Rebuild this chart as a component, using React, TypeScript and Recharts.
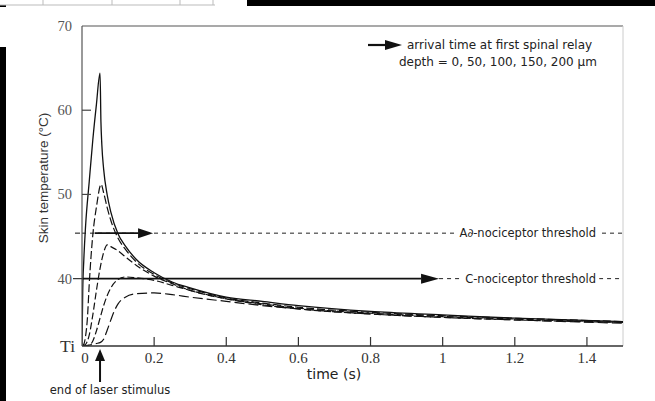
import { LineChart, Line, XAxis, YAxis, ReferenceLine } from "recharts";

// skin temperature (°C) vs time (s) at depths 0, 50, 100, 150, 200 µm
const time0 = [0, 0.002, 0.005, 0.01, 0.02, 0.03, 0.04, 0.05, 0.0525, 0.055, 0.06, 0.07, 0.08, 0.1, 0.12, 0.15, 0.2, 0.25, 0.3, 0.4, 0.5, 0.6, 0.8, 1.0, 1.2, 1.5];
const temp0 = [32, 38.5, 42.2, 46.3, 51.5, 56.5, 60.7, 64.4, 58.6, 55.9, 53.0, 49.9, 47.9, 45.3, 43.9, 42.3, 40.7, 39.6, 38.9, 37.8, 37.3, 36.8, 36.1, 35.7, 35.3, 34.9];

const time50 = [0, 0.005, 0.01, 0.015, 0.02, 0.025, 0.03, 0.04, 0.053, 0.06, 0.07, 0.08, 0.1, 0.12, 0.15, 0.2, 0.25, 0.3, 0.4, 0.5, 0.6, 0.8, 1.0, 1.2, 1.5];
const temp50 = [32, 32.2, 33.2, 35.3, 39.3, 42.6, 45.2, 48.5, 51.2, 50.2, 48.4, 46.9, 44.8, 43.5, 42.0, 40.5, 39.5, 38.8, 37.7, 37.1, 36.6, 36.0, 35.6, 35.3, 34.9];

const time100 = [0, 0.01, 0.02, 0.03, 0.04, 0.05, 0.06, 0.07, 0.08, 0.1, 0.12, 0.15, 0.2, 0.25, 0.3, 0.4, 0.5, 0.6, 0.8, 1.0, 1.2, 1.5];
const temp100 = [32, 32.2, 33.3, 35.7, 38.6, 41.2, 43.1, 44.0, 43.8, 43.3, 42.6, 41.6, 40.3, 39.4, 38.6, 37.6, 37.0, 36.5, 35.9, 35.5, 35.2, 34.8];

const time150 = [0, 0.02, 0.03, 0.04, 0.05, 0.06, 0.07, 0.08, 0.1, 0.12, 0.15, 0.2, 0.25, 0.3, 0.4, 0.5, 0.6, 0.8, 1.0, 1.2, 1.5];
const temp150 = [32, 32.1, 32.6, 33.8, 35.3, 36.8, 38.0, 38.9, 39.9, 40.2, 40.1, 39.8, 39.2, 38.6, 37.6, 36.9, 36.4, 35.8, 35.4, 35.1, 34.8];

const time200 = [0, 0.02, 0.04, 0.05, 0.06, 0.07, 0.08, 0.09, 0.1, 0.12, 0.15, 0.2, 0.25, 0.3, 0.4, 0.5, 0.6, 0.8, 1.0, 1.2, 1.5];
const temp200 = [32, 32.1, 32.3, 32.4, 32.8, 33.9, 35.1, 36.2, 37.0, 37.8, 38.2, 38.3, 38.1, 37.8, 37.3, 36.8, 36.4, 35.8, 35.4, 35.1, 34.7];

const xTicks = [0, 0.2, 0.4, 0.6, 0.8, 1, 1.2, 1.4];
const yTicks = [32, 40, 45.4, 50, 60, 70];

const T_INITIAL = 32;
const AD_THRESHOLD = 45.4;
const C_THRESHOLD = 40;
const AD_ARRIVAL = [0.035, 0.197];
const C_ARRIVAL = [0, 0.99];
const STIMULUS_END = 0.05;

const toRows = (t: number[], v: number[]) => t.map((time, i) => ({ time, temp: v[i] }));

const series = [
  { name: "0 µm", data: toRows(time0, temp0), dash: undefined },
  { name: "50 µm", data: toRows(time50, temp50), dash: "8 3" },
  { name: "100 µm", data: toRows(time100, temp100), dash: "7 3" },
  { name: "150 µm", data: toRows(time150, temp150), dash: "7 3" },
  { name: "200 µm", data: toRows(time200, temp200), dash: "10 4" },
];

const SANS = "'DejaVu Sans', sans-serif";
const SERIF = "'Liberation Serif', 'DejaVu Serif', serif";

function arrowShape(headLen: number, half: number) {
  return (p: any) => {
    const { x1, y1, x2, y2 } = p;
    return (
      <g>
        <line x1={x1} y1={y1} x2={x2 - headLen} y2={y2} stroke="#111" strokeWidth={1.6} />
        <polygon
          points={`${x2 - headLen},${y2 - half} ${x2},${y2} ${x2 - headLen},${y2 + half}`}
          fill="#111"
        />
      </g>
    );
  };
}

function thresholdShape(label: string) {
  return (p: any) => {
    const { x1, y1, x2, y2 } = p;
    return (
      <g>
        <line x1={x1} y1={y1} x2={x2} y2={y2} stroke="#222" strokeWidth={1} strokeDasharray="4 4" />
        <text
          x={x2 - 27}
          y={y2 + 4}
          textAnchor="end"
          fontFamily={SANS}
          fontSize={11.5}
          fill="#222"
          stroke="#fff"
          strokeWidth={8}
          paintOrder="stroke"
        >
          {label}
        </text>
      </g>
    );
  };
}

function stimulusShape(p: any) {
  const x = p.x1;
  const bottom = Math.max(p.y1, p.y2);
  const tip = bottom + 3;
  return (
    <g>
      <line x1={x} y1={tip + 10} x2={x} y2={bottom + 36} stroke="#111" strokeWidth={2} />
      <polygon points={`${x - 5},${tip + 12} ${x},${tip} ${x + 5},${tip + 12}`} fill="#111" />
    </g>
  );
}

function XTick(p: any) {
  const { x, y, payload } = p;
  const v = payload.value;
  return (
    <g>
      {v !== 0 && <line x1={x} y1={y} x2={x} y2={y - 9} stroke="#333" strokeWidth={1.2} />}
      <text x={v === 0 ? x + 3 : x} y={y + 17} textAnchor="middle" fontFamily={SERIF} fontSize={15} fill="#333">
        {String(v)}
      </text>
    </g>
  );
}

function YTick(p: any) {
  const { x, y, payload } = p;
  const v = payload.value;
  if (v === T_INITIAL) {
    return (
      <text x={x - 7} y={y + 6} textAnchor="end" fontFamily={SERIF} fontSize={17.5} fill="#333">
        Ti
      </text>
    );
  }
  if (v === AD_THRESHOLD) {
    return <line x1={x - 7} y1={y} x2={x - 2} y2={y} stroke="#333" strokeWidth={1.2} />;
  }
  let tick = null;
  if (v === 50 || v === 60) tick = <line x1={x} y1={y} x2={x + 9} y2={y} stroke="#444" strokeWidth={1.2} />;
  if (v === 40) tick = <line x1={x - 9} y1={y} x2={x} y2={y} stroke="#333" strokeWidth={1.2} />;
  return (
    <g>
      {tick}
      <text x={x - 10} y={y + 5} textAnchor="end" fontFamily={SERIF} fontSize={14.5} fill="#555">
        {String(v)}
      </text>
    </g>
  );
}

export default function App() {
  return (
    <div style={{ position: "absolute", left: 0, top: 0, width: 655, height: 401, background: "#fff" }}>
      <LineChart width={655} height={401} margin={{ top: 26, right: 32, bottom: 0, left: 0 }}>
        <XAxis
          dataKey="time"
          type="number"
          domain={[0, 1.5]}
          ticks={xTicks}
          height={55}
          tickSize={0}
          tickMargin={0}
          tick={<XTick />}
          axisLine={{ stroke: "#333", strokeWidth: 1.6 }}
          tickLine={false}
          allowDataOverflow
        />
        <YAxis
          type="number"
          domain={[32, 70]}
          ticks={yTicks}
          width={82}
          tickSize={0}
          tickMargin={0}
          tick={<YTick />}
          axisLine={{ stroke: "#555", strokeWidth: 1.2 }}
          tickLine={false}
          allowDataOverflow
        />
        <ReferenceLine y={70} stroke="#555" strokeWidth={1.2} ifOverflow="visible" />
        <ReferenceLine x={1.5} stroke="#ccc" strokeWidth={1} ifOverflow="visible" />
        <ReferenceLine y={AD_THRESHOLD} shape={thresholdShape("A∂-nociceptor threshold")} />
        <ReferenceLine
          segment={[{ x: C_ARRIVAL[1], y: C_THRESHOLD }, { x: 1.5, y: C_THRESHOLD }]}
          shape={thresholdShape("C-nociceptor threshold")}
        />
        <ReferenceLine
          segment={[{ x: AD_ARRIVAL[0], y: AD_THRESHOLD }, { x: AD_ARRIVAL[1], y: AD_THRESHOLD }]}
          shape={arrowShape(15, 5)}
        />
        <ReferenceLine
          segment={[{ x: C_ARRIVAL[0], y: C_THRESHOLD }, { x: C_ARRIVAL[1], y: C_THRESHOLD }]}
          shape={arrowShape(18, 5)}
        />
        <ReferenceLine x={STIMULUS_END} shape={stimulusShape} ifOverflow="visible" />
        {series.map((s) => (
          <Line
            key={s.name}
            name={s.name}
            data={s.data}
            dataKey="temp"
            type="monotone"
            stroke="#111"
            strokeWidth={s.dash ? 1.2 : 1.3}
            strokeDasharray={s.dash}
            dot={false}
            isAnimationActive={false}
          />
        ))}
      </LineChart>
      <svg
        width={655}
        height={401}
        style={{ position: "absolute", left: 0, top: 0, pointerEvents: "none" }}
      >
        {/* cropped neighbouring figure bits */}
        <rect x={247} y={0} width={408} height={6} fill="#000" />
        <rect x={0} y={47} width={6} height={354} fill="#000" />
        <rect x={0} y={5} width={6} height={2} fill="#000" />
        <line x1={0} y1={5} x2={215} y2={5} stroke="#bbb" />
        {[43, 112, 180, 213].map((x) => (
          <line key={x} x1={x} y1={0} x2={x} y2={5} stroke="#bbb" />
        ))}
        <text
          transform="translate(48,178) rotate(-90)"
          textAnchor="middle"
          fontFamily="'Liberation Sans', Arial, sans-serif"
          fontSize={13.5}
          fill="#333"
        >
          Skin temperature (°C)
        </text>
        <text x={334} y={379} textAnchor="middle" fontFamily={SANS} fontSize={14} fill="#222">
          time (s)
        </text>
        <text x={110} y={394} textAnchor="middle" fontFamily={SANS} fontSize={11.5} fill="#222">
          end of laser stimulus
        </text>
        <line x1={368} y1={45} x2={386} y2={45} stroke="#111" strokeWidth={2.2} />
        <polygon points="385,40 402,45 385,50" fill="#111" />
        <text x={407} y={49} fontFamily={SANS} fontSize={12} fill="#222">
          arrival time at first spinal relay
        </text>
        <text x={399} y={66} fontFamily={SANS} fontSize={12} fill="#222">
          depth = 0, 50, 100, 150, 200 µm
        </text>
      </svg>
    </div>
  );
}
